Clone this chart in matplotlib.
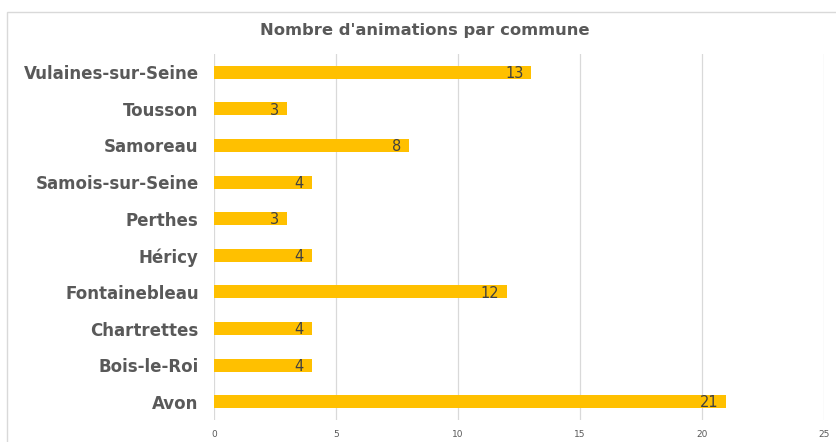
import matplotlib

matplotlib.use("Agg")
import matplotlib.pyplot as plt
from matplotlib.patches import Rectangle

communes = [
    "Avon",
    "Bois-le-Roi",
    "Chartrettes",
    "Fontainebleau",
    "Héricy",
    "Perthes",
    "Samois-sur-Seine",
    "Samoreau",
    "Tousson",
    "Vulaines-sur-Seine",
]
animations = [21, 4, 4, 12, 4, 3, 4, 8, 3, 13]
x_ticks = [0, 5, 10, 15, 20, 25]

TEXT = "#595959"
GRID = "#d9d9d9"
BAR = "#ffc000"

fig = plt.figure(figsize=(8.37, 4.42), dpi=100)
W, H = 837, 442

# chart frame, partly cut off on the right and bottom
fig.patches.append(
    Rectangle((7 / W, -0.1), 1.0, 1 - 12 / H + 0.1, transform=fig.transFigure,
              facecolor="none", edgecolor=GRID, linewidth=1.0, zorder=-1)
)

ax = fig.add_axes([214 / W, 1 - 420 / H, (824 - 214) / W, (420 - 54) / H])
ax.set_facecolor("none")

y = range(len(communes))
bars = ax.barh(y, animations, height=0.35, color=BAR, zorder=2)

for bar, value in zip(bars, animations):
    ax.annotate(str(value), (bar.get_width(), bar.get_y() + bar.get_height() / 2),
                xytext=(-5.5, -0.8), textcoords="offset points",
                ha="right", va="center", fontsize=10.5, color="#404040", zorder=3)

ax.set_xlim(0, 25)
ax.set_ylim(-0.5, len(communes) - 0.5)
ax.set_xticks(x_ticks)
ax.set_xticklabels([str(t) for t in x_ticks], fontsize=6.5, color=TEXT)
ax.set_yticks(list(y))
ax.set_yticklabels(communes, fontsize=12, fontweight="bold", color=TEXT)
ax.tick_params(axis="both", length=0)
ax.tick_params(axis="y", pad=11)
ax.tick_params(axis="x", pad=7)

ax.grid(axis="x", color=GRID, linewidth=0.9, zorder=0)
for side in ["top", "right", "bottom", "left"]:
    ax.spines[side].set_visible(False)

fig.text(425 / W, 1 - 31 / H, "Nombre d'animations par commune", ha="center", va="center",
         fontsize=11.75, fontweight="bold", color=TEXT)

fig.savefig("out.png", dpi=100)
